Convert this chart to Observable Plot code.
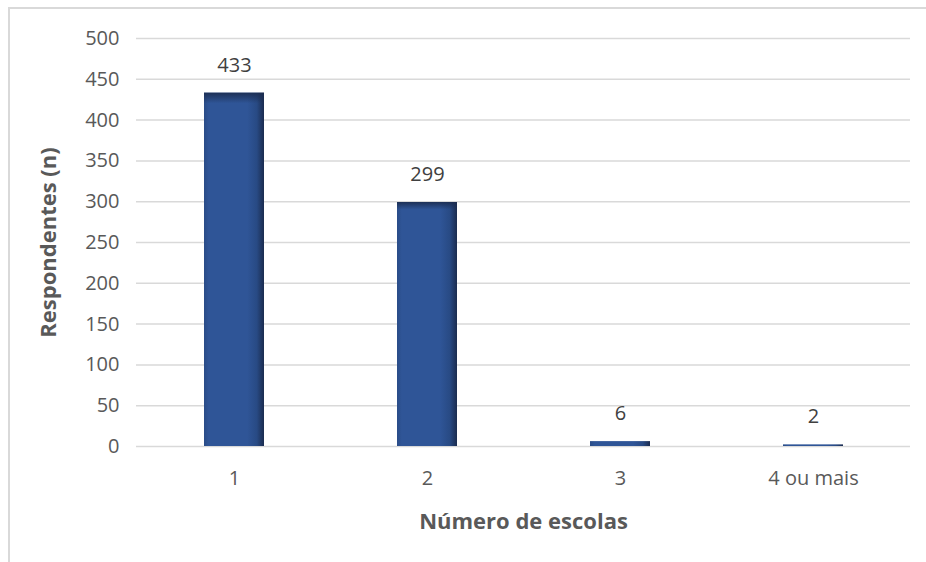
<!DOCTYPE html>
<html>
<head>
<meta charset="utf-8">
<script src="https://cdn.jsdelivr.net/npm/d3@7"></script>
<script src="https://cdn.jsdelivr.net/npm/@observablehq/plot@0.6"></script>
<style>
  html, body { margin: 0; padding: 0; background: #fff; }
  #wrap { position: relative; width: 926px; height: 562px; overflow: hidden; }
  #frame { position: absolute; left: 8px; top: 7px; width: 930px; height: 570px; border-top: 2px solid #d9d9d9; border-left: 2px solid #d9d9d9; box-sizing: border-box; }
  #chart { position: absolute; left: 0; top: 0; }
</style>
</head>
<body>
<div id="wrap"><div id="frame"></div><div id="chart"></div></div>
<script>
const categories = ["1", "2", "3", "4 ou mais"];
const values = [433, 299, 6, 2];
const yTicks = [0, 50, 100, 150, 200, 250, 300, 350, 400, 450, 500];

const data = categories.map((c, i) => ({category: c, value: values[i]}));

const chart = Plot.plot({
  width: 926,
  height: 562,
  marginLeft: 136,
  marginRight: 16,
  marginTop: 38,
  marginBottom: 116,
  style: {fontFamily: "'Open Sans', sans-serif", fontSize: "20px", color: "#595959", background: "transparent"},
  x: {domain: categories, paddingInner: 0.69, paddingOuter: 0.345, label: null},
  y: {domain: [0, 500], label: null},
  marks: [
    Plot.gridY(yTicks, {stroke: "#d9d9d9", strokeWidth: 1.5, strokeOpacity: 1}),
    Plot.axisY(yTicks, {tickSize: 0, tickPadding: 17, fontSize: 20, fill: "#595959", label: "Respondentes (n)", labelAnchor: "center", labelOffset: 96, labelArrow: "none"}),
    Plot.axisX({tickSize: 0, tickPadding: 24, fontSize: 20, fill: "#595959", label: "Número de escolas", labelAnchor: "center", labelOffset: 82, labelArrow: "none"}),
    Plot.barY(data, {x: "category", y: "value", fill: "url(#barGrad)"}),
    Plot.barY(data, {x: "category", y: "value", fill: "url(#barTop)"}),
    Plot.text(data, {x: "category", y: "value", text: d => String(d.value), dy: -28, fontSize: 20, fill: "#404040"})
  ]
});

const svg = d3.select(chart);
const defs = svg.insert("defs", ":first-child");
const g = defs.append("linearGradient").attr("id", "barGrad").attr("x1", 0).attr("y1", 0).attr("x2", 1).attr("y2", 0);
[["0%", "#2a4c87"], ["8%", "#2f5597"], ["72%", "#2f5597"], ["88%", "#284a84"], ["100%", "#1b2c4f"]].forEach(([o, c]) => g.append("stop").attr("offset", o).attr("stop-color", c));
const gt = defs.append("linearGradient").attr("id", "barTop").attr("x1", 0).attr("y1", 0).attr("x2", 0).attr("y2", 1);
[["0%", "#1b2c4f", 0.9], ["3%", "#1b2c4f", 0.0], ["100%", "#1b2c4f", 0.0]].forEach(([o, c, a]) => gt.append("stop").attr("offset", o).attr("stop-color", c).attr("stop-opacity", a));

// bold axis titles
svg.selectAll("[aria-label='y-axis label'] text, [aria-label='x-axis label'] text")
  .style("font-weight", "bold").style("font-size", "22px").attr("fill", "#595959");

document.getElementById("chart").appendChild(chart);
</script>
</body>
</html>
